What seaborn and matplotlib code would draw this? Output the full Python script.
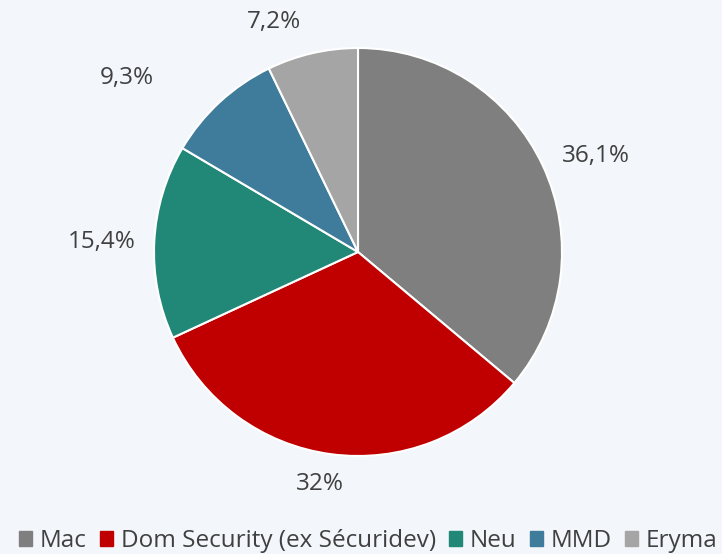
import numpy as np
import matplotlib
matplotlib.use("Agg")
import matplotlib.pyplot as plt
import seaborn as sns

# Market share values
brands = ["Mac", "Dom Security (ex Sécuridev)", "Neu", "MMD", "Eryma"]
shares = [36.1, 32.0, 15.4, 9.3, 7.2]
share_labels = ["36,1%", "32%", "15,4%", "9,3%", "7,2%"]
colors = ["#7F7F7F", "#C00000", "#218776", "#3F7B9B", "#A5A5A5"]

# label placement tweaks (radius factor, angle shift in degrees)
label_dist = [1.26, 1.15, 1.255, 1.42, 1.2]
label_shift = [-3.0, -1.7, 0.7, 10.4, 7.0]

sns.set_theme(style="white")
plt.rcParams['font.family'] = ['Open Sans', 'DejaVu Sans']

bg = "#F3F6FA"
fig = plt.figure(figsize=(7.22, 5.54), dpi=100, facecolor=bg)
ax = fig.add_axes([0.2133, 0.1769, 0.5651, 0.7365])
ax.set_facecolor(bg)

palette = sns.color_palette(colors)
wedges, _ = ax.pie(shares, colors=palette, startangle=90, counterclock=False,
                   radius=1.0, wedgeprops=dict(edgecolor="white", linewidth=1.5))
ax.set_xlim(-1, 1)
ax.set_ylim(-1, 1)
ax.set_aspect("equal")
ax.axis("off")

for w, lab, d, s in zip(wedges, share_labels, label_dist, label_shift):
    mid = np.deg2rad((w.theta1 + w.theta2) / 2 + s)
    ax.text(d * np.cos(mid), d * np.sin(mid), lab, ha="center", va="center",
            fontsize=17.5, color="#404040", clip_on=False)

handles = [plt.Rectangle((0, 0), 1, 1, color=c) for c in colors]
fig.legend(handles, brands, loc="center", bbox_to_anchor=(0.51, 0.023),
           ncol=5, frameon=False, fontsize=17.5, handlelength=0.55, handleheight=0.55,
           handletextpad=0.3, columnspacing=0.55, labelcolor="#404040")

plt.savefig("out.png", dpi=100, facecolor=bg)
